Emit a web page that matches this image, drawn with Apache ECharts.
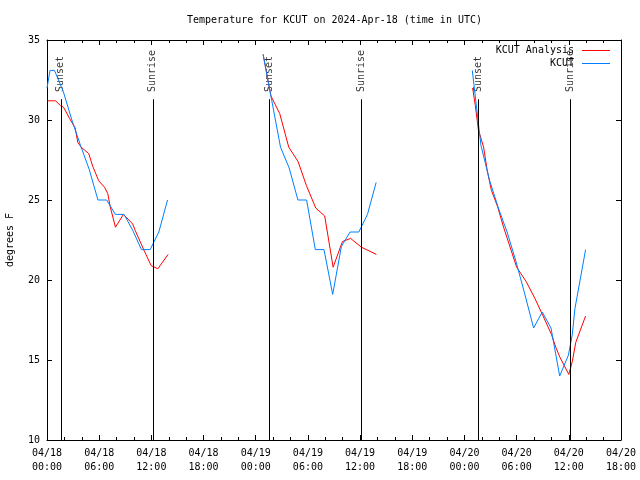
<!DOCTYPE html>
<html>
<head>
<meta charset="utf-8">
<script src="https://cdn.jsdelivr.net/npm/echarts@6/dist/echarts.min.js"></script>
<style>html,body{margin:0;padding:0;background:#fff;}#c{width:640px;height:480px;}</style>
</head>
<body>
<div id="c"></div>
<script>
// Hours since 2024-04-18 00:00 UTC; null marks a gap between nights
const analysisHours = [0.06,0.98,1.55,1.9,2.59,3.24,3.54,3.93,4.8,5.26,5.95,6.61,6.99,7.26,7.87,8.79,9.86,10.14,11.2,11.98,12.74,13.93,
  18,
  24.85,25.75,26.76,27.8,28.87,29.83,30.9,31.93,32.9,33.97,34.9,36.15,37.87,
  43,
  48.94,49.25,49.6,50.2,50.6,51.1,51.8,52.5,54.0,55.1,56.1,57.0,58.0,58.5,58.95,60.0,60.4,60.8,61.93];
const analysisTemps = [31.2,31.2,30.9,30.8,30.1,29.5,28.6,28.3,27.9,27.1,26.2,25.8,25.4,24.6,23.3,24.1,23.5,23.1,21.8,20.9,20.7,21.6,
  null,
  34.1,31.5,30.4,28.3,27.4,25.9,24.5,24.0,20.8,22.4,22.6,22.05,21.6,
  null,
  32.0,30.9,29.4,28.3,26.9,25.6,24.6,23.3,20.8,19.9,18.85,17.8,16.6,15.8,15.2,14.1,14.9,16.1,17.75];

const obsHours = [0.0,0.35,0.86,1.86,2.86,3.86,4.86,5.86,6.86,7.86,8.86,9.86,10.86,11.86,12.86,13.86,
  18,
  24.85,25.85,26.85,27.85,28.85,29.85,30.85,31.85,32.85,33.85,34.85,35.85,36.85,37.85,
  43,
  48.9,49.9,50.9,51.9,52.9,53.9,54.9,55.95,56.95,57.95,58.95,59.95,60.4,60.7,61.93];
const obsTemps = [32.0,33.1,33.1,31.8,30.0,28.4,26.9,25.0,25.0,24.1,24.1,23.1,21.9,21.9,23.0,25.0,
  null,
  34.1,31.2,28.3,27.0,25.0,25.0,21.9,21.9,19.1,22.1,23.0,23.0,24.1,26.1,
  null,
  33.1,28.4,26.2,24.5,23.0,21.2,19.2,17.0,18.0,17.0,14.0,15.3,16.6,18.2,21.9];

const sunEventHours = [1.59,12.17,25.61,36.19,49.64,60.21];
const sunEventLabels = ['Sunset','Sunrise','Sunset','Sunrise','Sunset','Sunrise'];
const sunLineTop = 31.3;
const sunLabelBase = 31.75;

const yTicks = [10,15,20,25,30,35];

const FONT = "'DejaVu Sans Mono', 'Liberation Mono', monospace";

function pairs(hs, vs){ return hs.map((h,i)=>[h, vs[i]===null ? '-' : vs[i]]); }
function xLabel(h){
  const day = 18 + Math.floor(h/24);
  const hh = h % 24;
  return '04/' + day + '\n' + (hh<10?'0':'') + hh + ':00';
}

const chart = echarts.init(document.getElementById('c'), null, {renderer:'canvas'});
const tickStyle = {color:'#000', width:1};
const baseX = {
  type:'value', min:0, max:66, interval:6,
  axisLine:{show:true, onZero:false, lineStyle:{color:'#000', width:1}},
  axisTick:{show:true, inside:true, length:5, lineStyle:tickStyle},
  minorTick:{show:true, splitNumber:3, length:3, lineStyle:tickStyle},
  splitLine:{show:false}, minorSplitLine:{show:false}
};
const baseY = {
  type:'value', min:yTicks[0], max:yTicks[yTicks.length-1], interval:5,
  axisLine:{show:true, onZero:false, lineStyle:{color:'#000', width:1}},
  axisTick:{show:true, inside:true, length:5, lineStyle:tickStyle},
  splitLine:{show:false}
};

chart.setOption({
  animation:false,
  backgroundColor:'#fff',
  textStyle:{fontFamily:FONT},
  title:{
    text:'Temperature for KCUT on 2024-Apr-18 (time in UTC)',
    left:187, top:15, padding:0,
    textStyle:{fontFamily:FONT, fontSize:10, fontWeight:'normal', color:'#000'}
  },
  legend:{
    data:['KCUT Analysis','KCUT'],
    orient:'vertical', align:'right', right:30, top:45,
    icon:'rect', itemWidth:28, itemHeight:1, itemGap:2, padding:0,
    textStyle:{fontFamily:FONT, fontSize:10, color:'#000', lineHeight:11, padding:[0,3,0,0]}
  },
  grid:{left:47, right:19, top:40, bottom:40, containLabel:false, outerBoundsMode:'none'},
  xAxis:[
    Object.assign({}, baseX, {position:'bottom',
      axisLabel:{show:true, margin:6, color:'#000', fontFamily:FONT, fontSize:10, lineHeight:14, formatter:xLabel}}),
    Object.assign({}, baseX, {position:'top', axisLabel:{show:false}})
  ],
  yAxis:[
    Object.assign({}, baseY, {position:'left',
      name:'degrees F', nameLocation:'middle', nameGap:32,
      nameTextStyle:{fontFamily:FONT, fontSize:10, color:'#000'},
      axisLabel:{show:true, margin:7, color:'#000', fontFamily:FONT, fontSize:10}}),
    Object.assign({}, baseY, {position:'right', axisLabel:{show:false}})
  ],
  series:[
    {
      name:'KCUT Analysis', type:'line', xAxisIndex:0, yAxisIndex:0,
      data:pairs(analysisHours, analysisTemps),
      symbol:'none', showSymbol:false, connectNulls:false,
      lineStyle:{color:'#ff0000', width:1}, itemStyle:{color:'#ff0000'}
    },
    {
      name:'KCUT', type:'line', xAxisIndex:0, yAxisIndex:0,
      data:pairs(obsHours, obsTemps),
      symbol:'none', showSymbol:false, connectNulls:false,
      lineStyle:{color:'#0080ff', width:1}, itemStyle:{color:'#0080ff'}
    },
    {
      name:'sun', type:'scatter', xAxisIndex:0, yAxisIndex:0, silent:true,
      symbolSize:0, itemStyle:{color:'rgba(0,0,0,0)'},
      data:sunEventHours.map((h,i)=>({name:sunEventLabels[i], value:[h, sunLabelBase]})),
      label:{show:true, position:'inside', rotate:90, align:'left', verticalAlign:'middle',
        formatter:p=>p.name, color:'#000', fontFamily:FONT, fontSize:10},
      markLine:{
        silent:true, symbol:['none','none'], animation:false,
        lineStyle:{color:'#000', width:1, type:'solid'},
        label:{show:false},
        data:sunEventHours.map(h=>[{coord:[h, yTicks[0]]},{coord:[h, sunLineTop]}])
      }
    }
  ]
});
</script>
</body>
</html>
